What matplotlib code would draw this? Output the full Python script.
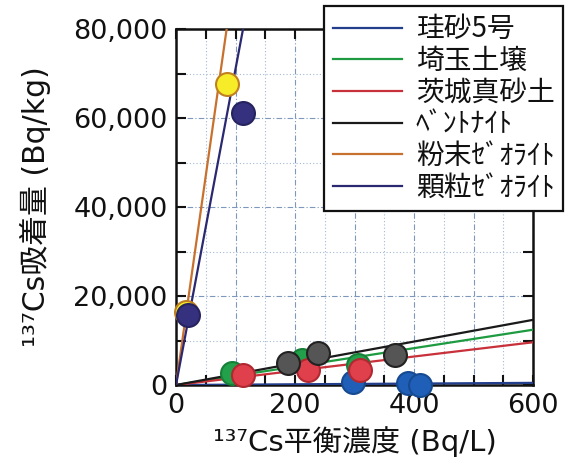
import matplotlib
matplotlib.use("Agg")
import matplotlib.pyplot as plt
import numpy as np
from matplotlib.ticker import MultipleLocator

plt.rcParams['font.family'] = ['DejaVu Sans', 'Noto Sans CJK JP']

# Sorbent names (legend order)
names = ['珪砂5号', '埼玉土壌', '茨城真砂土', 'ﾍﾞﾝﾄﾅｲﾄ', '粉末ｾﾞｵﾗｲﾄ', '顆粒ｾﾞｵﾗｲﾄ']

# Measured equilibrium concentration (Bq/L) and sorbed amount (Bq/kg)
silica_x = [298, 390, 410]
silica_y = [750, 400, 100]
saitama_x = [94, 212, 306]
saitama_y = [2640, 5600, 4500]
ibaraki_x = [113, 222, 309]
ibaraki_y = [2250, 3380, 3380]
bentonite_x = [189, 239, 368]
bentonite_y = [4890, 7140, 6760]
powder_x = [17, 85]
powder_y = [16500, 67600]
granular_x = [21, 112]
granular_y = [15780, 61080]

# Distribution coefficients Kd (L/kg) for the linear isotherms
kd = [0.8, 20.7, 16.0, 24.4, 940.0, 710.0]

line_colors = ['#233e8b', '#1e9a40', '#c8303a', '#1a1a1a', '#c8702e', '#2a2870']
face_colors = ['#1f5fb8', '#22a04a', '#e0404c', '#555555', '#f6ec28', '#35317f']
edge_colors = ['#174a90', '#178038', '#b02830', '#222222', '#c08020', '#26235f']

xs = [silica_x, saitama_x, ibaraki_x, bentonite_x, powder_x, granular_x]
ys = [silica_y, saitama_y, ibaraki_y, bentonite_y, powder_y, granular_y]

fig = plt.figure(figsize=(5.68, 4.71), dpi=100)
ax = fig.add_axes([176 / 568, 1 - 385 / 471, (533 - 176) / 568, (385 - 29) / 471])

xline = np.linspace(0, 600, 601)
handles = []
for i in range(len(names)):
    h, = ax.plot(xline, kd[i] * xline, color=line_colors[i], lw=1.6, zorder=3)
    handles.append(h)
for i in range(len(names)):
    ax.plot(xs[i], ys[i], 'o', ms=16.5, mfc=face_colors[i], mec=edge_colors[i],
            mew=1.5, zorder=4, clip_on=False)

ax.set_xlim(0, 600)
ax.set_ylim(0, 80000)

ax.xaxis.set_major_locator(MultipleLocator(100))
ax.xaxis.set_minor_locator(MultipleLocator(50))
ax.set_xticklabels([f'{int(v)}' if v % 200 == 0 else '' for v in ax.get_xticks()])
ax.yaxis.set_major_locator(MultipleLocator(20000))
ax.yaxis.set_minor_locator(MultipleLocator(10000))
ax.set_yticklabels([f'{int(v):,}' for v in ax.get_yticks()])

ax.tick_params(which='both', direction='in', top=True, right=True,
               length=7, width=1.5, color='#111111')
ax.tick_params(which='major', labelsize=19.5, pad=6, colors='#111111')

ax.grid(which='major', color='#7d98bc', lw=0.8, ls=(0, (5, 2, 1, 2)), zorder=1)
ax.grid(which='minor', color='#a4b8d2', lw=0.8, ls=(0, (1, 2)), zorder=1)

for s in ax.spines.values():
    s.set_linewidth(1.8)
    s.set_color('#111111')

ax.set_xlabel('¹³⁷Cs平衡濃度 (Bq/L)', fontsize=21, labelpad=5, color='#111111')
ax.set_ylabel('¹³⁷Cs吸着量 (Bq/kg)', fontsize=21.5, labelpad=16, color='#111111')

leg = fig.legend(handles, names, loc='upper right',
                 bbox_to_anchor=(563 / 568, 1 - 6 / 471),
                 bbox_transform=fig.transFigure,
                 fontsize=20, frameon=True, fancybox=False, framealpha=1,
                 edgecolor='#111111', handlelength=2.5, handletextpad=0.5,
                 labelspacing=0.06, borderpad=0.3, borderaxespad=0)
leg.get_frame().set_linewidth(1.6)
for t in leg.get_texts():
    t.set_family(['Noto Sans CJK JP', 'DejaVu Sans'])
    t.set_color('#111111')

fig.savefig('out.png', dpi=100)
